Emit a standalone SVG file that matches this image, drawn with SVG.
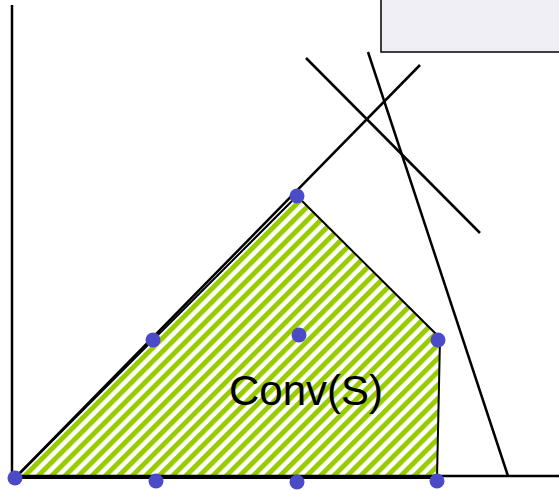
<svg xmlns="http://www.w3.org/2000/svg" width="559" height="490" viewBox="0 0 559 490">
<defs>
<pattern id="hatch" patternUnits="userSpaceOnUse" width="9.5" height="9.5" patternTransform="rotate(-45)">
<rect width="9.5" height="9.5" fill="#ffffff"/>
<rect x="0" y="0" width="9.5" height="5" fill="#99cc00"/>
</pattern>
</defs>
<style>
.ln{stroke:#000;stroke-width:2.5;fill:none}
.dot{fill:#4b4bc8}
.lbl{font-family:"Liberation Sans",Arial,sans-serif;font-size:42px;fill:#000}
</style>
<g id="box"><rect x="381" y="-5" width="190" height="57" fill="#efeff5" stroke="#000" stroke-width="1.5"/></g>
<g id="hull">
<polygon points="15,478 297,196 440,338 437,478" fill="url(#hatch)" stroke="#000" stroke-width="2"/>
<text class="lbl" x="229" y="405">Conv(S)</text>
</g>
<g id="connectors">
<line class="ln" x1="12" y1="5" x2="12" y2="477"/>
<line class="ln" x1="12" y1="476" x2="559" y2="476"/>
<line class="ln" x1="420" y1="65" x2="15" y2="478"/>
<line class="ln" x1="306" y1="58" x2="480" y2="233"/>
<line class="ln" x1="368" y1="52" x2="508" y2="476"/>
</g>
<g id="points">
<circle class="dot" cx="15" cy="478" r="7.5"/>
<circle class="dot" cx="156" cy="481" r="7.5"/>
<circle class="dot" cx="297" cy="482" r="7.5"/>
<circle class="dot" cx="437" cy="481" r="7.5"/>
<circle class="dot" cx="153" cy="340" r="7.5"/>
<circle class="dot" cx="299" cy="335" r="7.5"/>
<circle class="dot" cx="438" cy="340" r="7.5"/>
<circle class="dot" cx="297" cy="196" r="7.5"/>
</g>
</svg>
